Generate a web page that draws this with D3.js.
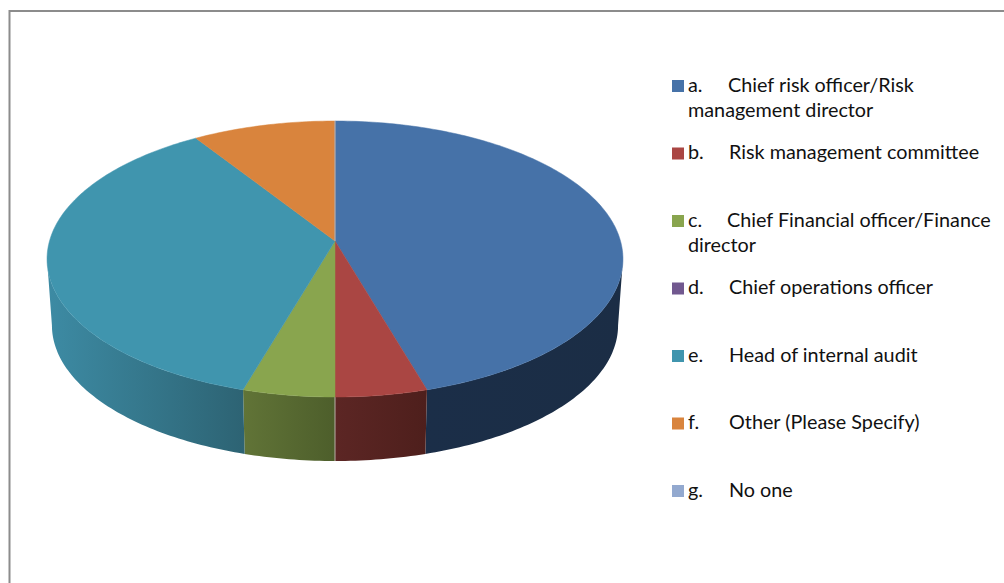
<!DOCTYPE html>
<html>
<head>
<meta charset="utf-8">
<script src="https://cdn.jsdelivr.net/npm/d3@7"></script>
<style>
  html, body { margin: 0; padding: 0; background: #fff; overflow: hidden; }
  svg { display: block; }
  text { font-family: Lato, "Open Sans", sans-serif; font-size: 19.8px; fill: #111; }
</style>
</head>
<body>
<script>
// number of answers per option
const letters = ['a.', 'b.', 'c.', 'd.', 'e.', 'f.', 'g.']
const firstLines = [
    'Chief risk officer/Risk',
    'Risk management committee',
    'Chief Financial officer/Finance',
    'Chief operations officer',
    'Head of internal audit',
    'Other (Please Specify)',
    'No one'
]
const secondLines = ['management director', '', 'director', '', '', '', '']
const answers = [10, 1, 1, 0, 8, 2, 0]
const faceColors = ['#4672a8', '#aa4643', '#89a54e', '#71588f', '#4095ae', '#d9843d', '#93a9cf']
const wallLeft = ['#1b2e48', '#5c2624', '#617437', '#3d2f4e', '#3d8ba4', '#8a5226', '#5a6a85']
const wallRight = ['#1b2d45', '#4e1f1c', '#4d5e2b', '#3d2f4e', '#2d6373', '#8a5226', '#5a6a85']

const width = 1004
const height = 583

const svg = d3.select('body')
    .append('svg')
    .attr('width', width)
    .attr('height', height)

// chart frame, only top and left are inside the crop
svg.append('path')
    .attr('d', `M9.5,${height} V11 H${width}`)
    .attr('fill', 'none')
    .attr('stroke', '#8c8c8c')
    .attr('stroke-width', 2)

// pie in perspective: the centre sits above the middle of the ellipse
const cx = 335
const cy = 241
const rX = 285.5
const rY = 135.65
const persp = 0.1304
const depth = 66.7
const bottomScale = 0.983
// angle of the widest point of the ellipse, past the quarter turn
const widest = Math.acos(-persp)

function project(angle, level) {
    const s = level ? bottomScale : 1
    const w = 1 + persp * Math.cos(angle)
    return [
        cx + s * rX * Math.sin(angle) / w,
        cy - s * rY * Math.cos(angle) / w + (level ? depth : 0)
    ]
}

const slices = d3.pie().sort(null)(answers).filter(d => d.value > 0)
const line = d3.line()

function arcPoints(a0, a1, level) {
    const n = Math.max(2, Math.ceil((a1 - a0) * 60))
    return d3.range(n + 1).map(i => project(a0 + (a1 - a0) * i / n, level))
}

const defs = svg.append('defs')

// side walls, only the front half of the pie can be seen
slices.forEach(d => {
    const a0 = Math.max(d.startAngle, widest)
    const a1 = Math.min(d.endAngle, 2 * Math.PI - widest)
    if (a1 <= a0) return
    const top = arcPoints(a0, a1, 0)
    const bottom = arcPoints(a0, a1, 1).reverse()
    const xs = d3.extent(top.concat(bottom), p => p[0])
    const id = 'wall' + d.index
    const grad = defs.append('linearGradient')
        .attr('id', id)
        .attr('gradientUnits', 'userSpaceOnUse')
        .attr('x1', xs[0]).attr('x2', xs[1])
        .attr('y1', 0).attr('y2', 0)
    grad.append('stop').attr('offset', 0).attr('stop-color', wallLeft[d.index])
    grad.append('stop').attr('offset', 1).attr('stop-color', wallRight[d.index])
    svg.append('path')
        .attr('d', line(top.concat(bottom)) + 'Z')
        .attr('fill', `url(#${id})`)
})

// pale seam where the b and c walls meet
svg.append('path')
    .attr('d', line([project(Math.PI, 0), project(Math.PI, 1)]))
    .attr('stroke', '#b9b0a8')
    .attr('stroke-width', 1)

// top face
slices.forEach(d => {
    const pts = [[cx, cy]].concat(arcPoints(d.startAngle, d.endAngle, 0))
    svg.append('path')
        .attr('d', line(pts) + 'Z')
        .attr('fill', faceColors[d.index])
        .attr('stroke', faceColors[d.index])
        .attr('stroke-width', 0.5)
})

// same seam on the face between f and a
svg.append('path')
    .attr('d', line([[cx, cy], project(0, 0)]))
    .attr('stroke', '#a9b4c6')
    .attr('stroke-width', 1)

// legend
const rows = d3.scalePoint()
    .domain(letters)
    .range([91.5, 496.5])
// the tab stop after the letter is not quite the same on every row
const tabNudge = [-1, 0, -2, 0, 0, 0, 0]

const legend = svg.append('g')

letters.forEach((letter, i) => {
    const y = rows(letter)
    legend.append('rect')
        .attr('x', 672)
        .attr('y', y - 11.5)
        .attr('width', 12)
        .attr('height', 12)
        .attr('fill', faceColors[i])
    legend.append('text')
        .attr('x', 688)
        .attr('y', y)
        .text(letter)
    legend.append('text')
        .attr('x', 729 + tabNudge[i])
        .attr('y', y)
        .text(firstLines[i])
    if (secondLines[i]) {
        legend.append('text')
            .attr('x', 688)
            .attr('y', y + 25)
            .text(secondLines[i])
    }
})
</script>
</body>
</html>
